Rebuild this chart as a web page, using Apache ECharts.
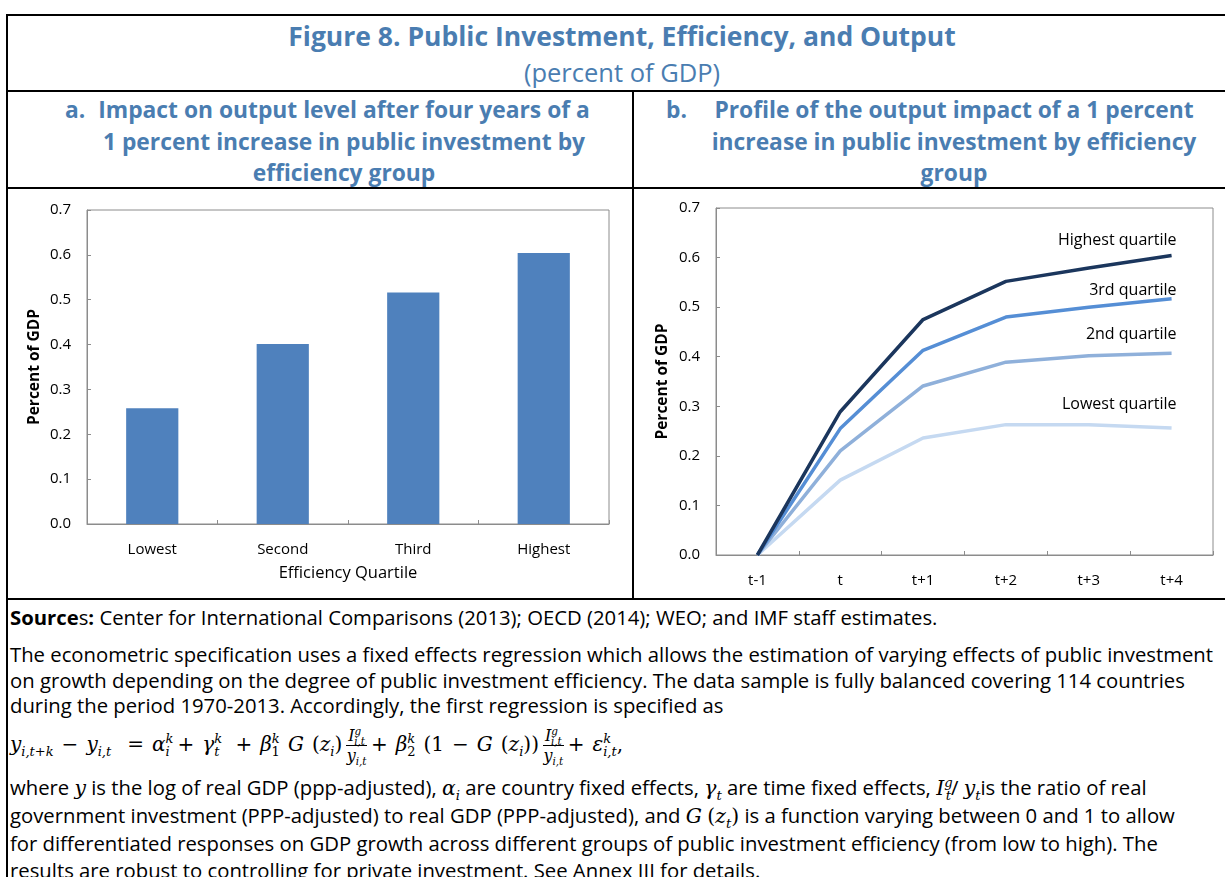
<!DOCTYPE html>
<html>
<head>
<meta charset="utf-8">
<script src="https://cdn.jsdelivr.net/npm/echarts@6/dist/echarts.min.js"></script>
<style>
  html, body { margin: 0; padding: 0; background: #fff; }
  body { width: 1225px; height: 877px; overflow: hidden; position: relative; font-family: "Open Sans", "Noto Sans", sans-serif; color: #000; }
  .ln { position: absolute; background: #000; }
  .t { position: absolute; white-space: nowrap; }
  .blue { color: #4a7db1; }
  .ptitle { font-weight: bold; font-size: 22.8px; line-height: 31.5px; text-align: center; }
  .body { font-size: 20.3px; left: 10px; }
  .m { font-family: "DejaVu Serif", "Liberation Serif", serif; font-style: italic; }
  .mr { font-family: "DejaVu Serif", "Liberation Serif", serif; }
  .frac { display: inline-block; vertical-align: middle; text-align: center; font-size: 16px; line-height: 19px; margin: 0 4px; }
  .frac .num { display: block; border-bottom: 1px solid #000; padding: 0 2px; }
  .frac .den { display: block; }
  sub, sup { font-size: 0.65em; line-height: 0; }
  .eq .sp { display: inline-block; width: 8px; }
  #chartA { position: absolute; left: 9px; top: 190px; width: 622px; height: 406px; }
  #chartB { position: absolute; left: 635px; top: 190px; width: 589px; height: 406px; }
</style>
</head>
<body>
<!-- table lines -->
<div class="ln" style="left:6px;top:14px;width:1219px;height:2px;"></div>
<div class="ln" style="left:6px;top:90px;width:1219px;height:2px;"></div>
<div class="ln" style="left:6px;top:187px;width:1219px;height:2px;"></div>
<div class="ln" style="left:6px;top:598px;width:1219px;height:2px;"></div>
<div class="ln" style="left:6px;top:14px;width:2px;height:863px;"></div>
<div class="ln" style="left:632px;top:90px;width:2px;height:510px;"></div>

<div class="t blue" style="left:0;width:1244px;top:20px;text-align:center;font-weight:bold;font-size:26.5px;line-height:32px;">Figure 8. Public Investment, Efficiency, and Output</div>
<div class="t blue" style="left:0;width:1244px;top:56px;text-align:center;font-size:25.5px;line-height:32px;">(percent of GDP)</div>

<div class="t blue ptitle" style="left:65px;top:94px;text-align:left;">a.</div>
<div class="t blue ptitle" style="left:84px;width:520px;top:94px;">Impact on output level after four years of a<br>1 percent increase in public investment by<br>efficiency group</div>

<div class="t blue ptitle" style="left:666px;top:94px;text-align:left;">b.</div>
<div class="t blue ptitle" style="left:704px;width:500px;top:94px;">Profile of the output impact of a 1 percent<br>increase in public investment by efficiency<br>group</div>

<div id="chartA"></div>
<div id="chartB"></div>

<div class="t body" style="top:603px;line-height:28px;"><b>Source</b>s<b>:</b> Center for International Comparisons (2013); OECD (2014); WEO; and IMF staff estimates.</div>
<div class="t body" style="top:642px;line-height:25.5px;">The econometric specification uses a fixed effects regression which allows the estimation of varying effects of public investment<br>on growth depending on the degree of public investment efficiency. The data sample is fully balanced covering 114 countries<br>during the period 1970-2013. Accordingly, the first regression is specified as</div>
<div class="t body eq" style="top:723px;line-height:42px;font-size:20px;">
<span class="m">y</span><sub class="m">i,t+k</sub><span class="sp"></span><span class="mr">−</span><span class="sp"></span><span class="m">y</span><sub class="m">i,t</sub><span class="sp"></span><span class="sp"></span><span class="mr">=</span><span class="sp"></span><span class="m">α</span><sup class="m">k</sup><sub class="m" style="margin-left:-8px">i</sub><span class="sp"></span><span class="mr">+</span><span class="sp"></span><span class="m">γ</span><sup class="m">k</sup><sub class="m" style="margin-left:-8px">t</sub><span class="sp"></span><span class="sp"></span><span class="mr">+</span><span class="sp"></span><span class="m">β</span><sup class="m">k</sup><sub class="mr" style="margin-left:-8px">1</sub><span class="sp"></span><span class="m">G</span><span class="sp"></span><span class="mr">(</span><span class="m">z</span><sub class="m">i</sub><span class="mr">)</span><span class="frac"><span class="num"><span class="m">I</span><sup class="m">g</sup><sub class="m" style="margin-left:-7px">i,t</sub></span><span class="den"><span class="m">y</span><sub class="m">i,t</sub></span></span><span class="mr">+</span><span class="sp"></span><span class="m">β</span><sup class="m">k</sup><sub class="mr" style="margin-left:-8px">2</sub><span class="sp"></span><span class="mr">(1</span><span class="sp"></span><span class="mr">−</span><span class="sp"></span><span class="m">G</span><span class="sp"></span><span class="mr">(</span><span class="m">z</span><sub class="m">i</sub><span class="mr">))</span><span class="frac"><span class="num"><span class="m">I</span><sup class="m">g</sup><sub class="m" style="margin-left:-7px">i,t</sub></span><span class="den"><span class="m">y</span><sub class="m">i,t</sub></span></span><span class="mr">+</span><span class="sp"></span><span class="m">ε</span><sup class="m">k</sup><sub class="m" style="margin-left:-8px">i,t</sub><span class="mr">,</span>
</div>
<div class="t body" style="top:774px;line-height:27px;">where <span class="m">y</span> is the log of real GDP (ppp-adjusted), <span class="m">α<sub>i</sub></span> are country fixed effects, <span class="m">γ<sub>t</sub></span> are time fixed effects, <span class="m">I<sup>g</sup><sub style="margin-left:-7px">t</sub></span>/ <span class="m">y<sub>t</sub></span>is the ratio of real<br>government investment (PPP-adjusted) to real GDP (PPP-adjusted), and <span class="m">G</span> <span class="mr">(</span><span class="m">z<sub>t</sub></span><span class="mr">)</span> is a function varying between 0 and 1 to allow<br>for differentiated responses on GDP growth across different groups of public investment efficiency (from low to high). The<br>results are robust to controlling for private investment. See Annex III for details.</div>

<script>
// ---------- data ----------
const barCategories = ['Lowest', 'Second', 'Third', 'Highest'];
const barValues = [0.258, 0.401, 0.516, 0.604];

const lineCategories = ['t-1', 't', 't+1', 't+2', 't+3', 't+4'];
const highestQuartile = [0, 0.289, 0.475, 0.552, 0.579, 0.604];
const thirdQuartile   = [0, 0.255, 0.413, 0.480, 0.500, 0.517];
const secondQuartile  = [0, 0.210, 0.341, 0.389, 0.402, 0.407];
const lowestQuartile  = [0, 0.151, 0.236, 0.263, 0.263, 0.256];

const seriesNames = ['Highest quartile', '3rd quartile', '2nd quartile', 'Lowest quartile'];
const yTickValues = [0, 0.1, 0.2, 0.3, 0.4, 0.5, 0.6, 0.7];

// ---------- shared styles ----------
const FONT = '"Open Sans", "Noto Sans", sans-serif';
const axisGray = '#8c8c8c';

function valueAxis(nameGap) {
  return {
    type: 'value', min: yTickValues[0], max: yTickValues[yTickValues.length - 1], interval: 0.1,
    name: 'Percent of GDP', nameLocation: 'middle', nameGap: nameGap, nameRotate: 90,
    nameMoveOverlap: false,
    nameTextStyle: { fontFamily: FONT, fontSize: 15.5, fontWeight: 'bold', color: '#000' },
    axisLine: { show: true, lineStyle: { color: axisGray, width: 1 } },
    axisTick: { show: true, inside: true, length: 4, lineStyle: { color: axisGray } },
    axisLabel: { fontFamily: FONT, fontSize: 15, color: '#000', margin: 16, formatter: v => v.toFixed(1) },
    splitLine: { show: false }
  };
}

// ---------- chart A ----------
const chartA = echarts.init(document.getElementById('chartA'), null, { renderer: 'canvas' });
chartA.setOption({
  animation: false,
  grid: { left: 78, right: 22, top: 20, bottom: 72, show: true, borderColor: axisGray, borderWidth: 1 },
  xAxis: {
    type: 'category', data: barCategories,
    name: 'Efficiency Quartile', nameLocation: 'middle', nameGap: 41,
    nameTextStyle: { fontFamily: FONT, fontSize: 16.5, color: '#000' },
    axisLine: { show: true, lineStyle: { color: axisGray, width: 1 } },
    axisTick: { show: true, inside: true, length: 4, lineStyle: { color: axisGray } },
    axisLabel: { fontFamily: FONT, fontSize: 15, color: '#000', margin: 18 }
  },
  yAxis: valueAxis(44),
  series: [{
    type: 'bar', data: barValues, barWidth: '40%',
    itemStyle: { color: '#4f81bd' }
  }]
});

// ---------- chart B ----------
const lineColors = ['#1b365d', '#558ed5', '#8fb0da', '#c5d9f1'];
const labelY = [0.635, 0.534, 0.445, 0.304];
const lineData = [highestQuartile, thirdQuartile, secondQuartile, lowestQuartile];

const chartB = echarts.init(document.getElementById('chartB'), null, { renderer: 'canvas' });
chartB.setOption({
  animation: false,
  grid: { left: 81, right: 11, top: 18, bottom: 41, show: true, borderColor: axisGray, borderWidth: 1 },
  xAxis: {
    type: 'category', data: lineCategories, boundaryGap: true,
    axisLine: { show: true, lineStyle: { color: axisGray, width: 1 } },
    axisTick: { show: true, inside: true, length: 4, lineStyle: { color: axisGray } },
    axisLabel: { fontFamily: FONT, fontSize: 15, color: '#000', margin: 18 }
  },
  yAxis: valueAxis(45),
  series: seriesNames.map((name, i) => ({
    name: name, type: 'line', data: lineData[i],
    showSymbol: false, symbol: 'none',
    lineStyle: { color: lineColors[i], width: 3.5 },
    z: 10 - i,
    markPoint: {
      symbol: 'circle', symbolSize: 0,
      data: [{ name: name, coord: [lineCategories[lineCategories.length - 1], labelY[i]] }],
      label: { show: true, position: 'left', distance: 0, offset: [5, 0], formatter: p => p.name,
               fontFamily: FONT, fontSize: 16, color: '#000' }
    }
  }))
});
</script>
</body>
</html>
